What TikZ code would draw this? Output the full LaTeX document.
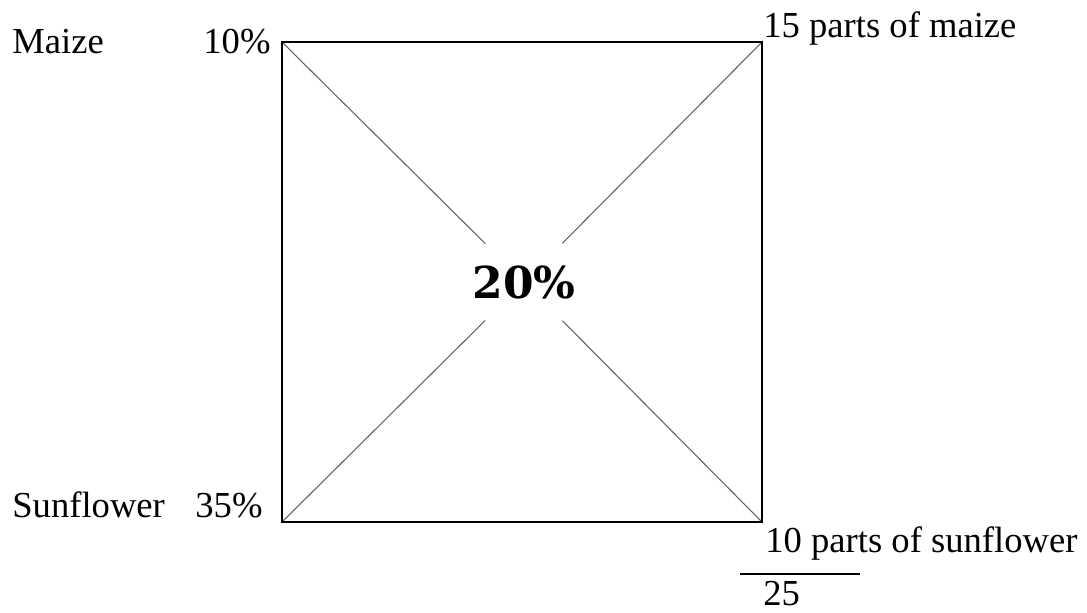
\documentclass[tikz,border=0pt]{standalone}
\usepackage{fontspec}
\setmainfont{Liberation Serif}
\newfontfamily\bigfont{DejaVu Serif}
\begin{document}
\begin{tikzpicture}[x=0.5pt,y=-0.5pt,
  lbl/.style={inner sep=0,anchor=base west,font=\fontsize{18.3}{22}\selectfont},
  sq/.style={line width=0.75pt,black},
  diag/.style={line width=0.55pt,black!60}]
\useasboundingbox (0,0) rectangle (1087,612);
\coordinate (tl) at (282,42);
\coordinate (tr) at (762,42);
\coordinate (br) at (762,522);
\coordinate (bl) at (282,522);
\node[circle,minimum size=47pt,inner sep=0,font=\bigfont\bfseries\fontsize{22}{26}\selectfont] (c) at (524,282) {20\%};
\draw[diag] (tl) -- (c);
\draw[diag] (tr) -- (c);
\draw[diag] (bl) -- (c);
\draw[diag] (br) -- (c);
\draw[sq] (tl) -- (tr) -- (br) -- (bl) -- cycle;
\node[lbl] (maize) at (12,53) {Maize};
\node[lbl] (p10) at (203,53) {10\%};
\node[lbl] (sun) at (12,517) {Sunflower};
\node[lbl] (p35) at (195,517) {35\%};
\node[lbl] (m15) at (763,37) {15 parts of maize};
\node[lbl] (s10) at (765,552) {10 parts of sunflower};
\coordinate (ua) at (740,574);
\coordinate (ub) at (860,574);
\draw[sq] (ua) -- (ub);
\node[lbl] (tot) at (763,605) {25};
\end{tikzpicture}
\end{document}
